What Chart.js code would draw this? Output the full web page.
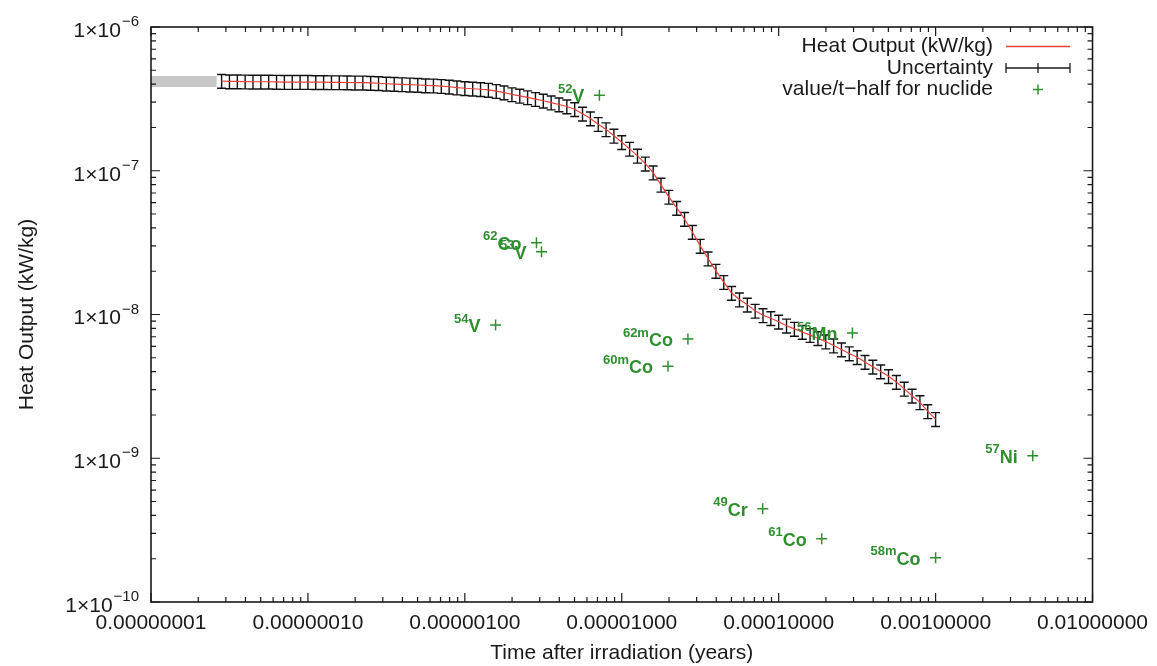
<!DOCTYPE html>
<html>
<head>
<meta charset="utf-8">
<script src="https://cdn.jsdelivr.net/npm/chart.js@4"></script>
<style>
  html, body { margin: 0; padding: 0; background: #fff; }
</style>
</head>
<body>
<canvas id="heatChart" width="1157" height="666"></canvas>
<script>
// Heat output after irradiation (log-log)
const times = [
  2.818e-8, 3.162e-8, 3.548e-8, 3.981e-8, 4.467e-8, 5.012e-8, 5.623e-8, 6.310e-8, 7.079e-8, 7.943e-8, 8.913e-8,
  1.000e-7, 1.122e-7, 1.259e-7, 1.413e-7, 1.585e-7, 1.778e-7, 1.995e-7, 2.239e-7, 2.512e-7, 2.818e-7,
  3.162e-7, 3.548e-7, 3.981e-7, 4.467e-7, 5.012e-7, 5.623e-7, 6.310e-7, 7.079e-7, 7.943e-7, 8.913e-7,
  1.000e-6, 1.122e-6, 1.259e-6, 1.413e-6, 1.585e-6, 1.778e-6, 1.995e-6, 2.239e-6, 2.512e-6, 2.818e-6,
  3.162e-6, 3.548e-6, 3.981e-6, 4.467e-6, 5.012e-6, 5.623e-6, 6.310e-6, 7.079e-6, 7.943e-6, 8.913e-6,
  1.000e-5, 1.122e-5, 1.259e-5, 1.413e-5, 1.585e-5, 1.778e-5, 1.995e-5, 2.239e-5, 2.512e-5, 2.818e-5,
  3.162e-5, 3.548e-5, 3.981e-5, 4.467e-5, 5.012e-5, 5.623e-5, 6.310e-5, 7.079e-5, 7.943e-5, 8.913e-5,
  1.000e-4, 1.122e-4, 1.259e-4, 1.413e-4, 1.585e-4, 1.778e-4, 1.995e-4, 2.239e-4, 2.512e-4, 2.818e-4,
  3.162e-4, 3.548e-4, 3.981e-4, 4.467e-4, 5.012e-4, 5.623e-4, 6.310e-4, 7.079e-4, 7.943e-4, 8.913e-4,
  1.000e-3
];
const heat = [
  4.21e-7, 4.18e-7, 4.18e-7, 4.17e-7, 4.16e-7, 4.16e-7, 4.16e-7, 4.15e-7, 4.14e-7, 4.14e-7, 4.14e-7,
  4.14e-7, 4.13e-7, 4.13e-7, 4.12e-7, 4.12e-7, 4.11e-7, 4.10e-7, 4.10e-7, 4.08e-7, 4.06e-7,
  4.03e-7, 4.01e-7, 3.99e-7, 3.97e-7, 3.95e-7, 3.92e-7, 3.91e-7, 3.88e-7, 3.84e-7, 3.79e-7,
  3.75e-7, 3.72e-7, 3.69e-7, 3.65e-7, 3.58e-7, 3.50e-7, 3.40e-7, 3.32e-7, 3.24e-7, 3.15e-7,
  3.07e-7, 2.98e-7, 2.89e-7, 2.80e-7, 2.68e-7, 2.49e-7, 2.31e-7, 2.11e-7, 1.94e-7, 1.75e-7,
  1.58e-7, 1.42e-7, 1.27e-7, 1.12e-7, 9.71e-8, 7.98e-8, 6.58e-8, 5.51e-8, 4.62e-8, 3.75e-8,
  3.00e-8, 2.45e-8, 2.01e-8, 1.68e-8, 1.41e-8, 1.27e-8, 1.17e-8, 1.06e-8, 9.87e-9, 9.41e-9,
  8.90e-9, 8.36e-9, 7.94e-9, 7.55e-9, 7.19e-9, 6.84e-9, 6.48e-9, 6.08e-9, 5.71e-9, 5.36e-9,
  5.04e-9, 4.67e-9, 4.33e-9, 4.01e-9, 3.72e-9, 3.39e-9, 3.04e-9, 2.72e-9, 2.45e-9, 2.12e-9,
  1.87e-9
];
const uncertainty = 0.11; // relative

// grey band before the first computed point
const bandTimes = [1e-8, 2.62e-8];
const bandHeat = [4.18e-7, 4.18e-7];

// nuclide markers
const nucTimes = [7.2e-6, 2.86e-6, 3.08e-6, 1.57e-6, 2.64e-5, 1.97e-5, 2.95e-4, 4.16e-3, 7.91e-5, 1.88e-4, 1.0e-3];
const nucHeat  = [3.35e-7, 3.16e-8, 2.73e-8, 8.45e-9, 6.75e-9, 4.37e-9, 7.43e-9, 1.04e-9, 4.46e-10, 2.75e-10, 2.03e-10];
const nucMass  = ['52', '62', '53', '54', '62m', '60m', '56', '57', '49', '61', '58m'];
const nucSym   = ['V', 'Co', 'V', 'V', 'Co', 'Co', 'Mn', 'Ni', 'Cr', 'Co', 'Co'];

const xTicks = [1e-8, 1e-7, 1e-6, 1e-5, 1e-4, 1e-3, 1e-2];
const yTicks = [1e-10, 1e-9, 1e-8, 1e-7, 1e-6];

const FONT = "'Liberation Sans', Arial, Helvetica, sans-serif";
const INK = '#1a1a1a';
const GREEN = '#2f8f2f';
const RED = '#e8413c';

Chart.defaults.font.family = FONT;
Chart.defaults.color = INK;

const curve = times.map((t, i) => ({ x: t, y: heat[i] }));
const nuclides = nucTimes.map((t, i) => ({ x: t, y: nucHeat[i] }));
const band = bandTimes.map((t, i) => ({ x: t, y: bandHeat[i] }));

// error bars for the "Uncertainty" dataset
const errorBars = {
  id: 'errorBars',
  beforeDatasetsDraw(chart) {
    const { ctx, scales: { x, y }, chartArea: a } = chart;
    ctx.save();
    ctx.beginPath();
    ctx.rect(a.left, a.top, a.right - a.left, a.bottom - a.top);
    ctx.clip();
    ctx.strokeStyle = '#111';
    ctx.lineWidth = 1.4;
    ctx.beginPath();
    times.forEach((t, i) => {
      const px = x.getPixelForValue(t);
      const hi = y.getPixelForValue(heat[i] * (1 + uncertainty));
      const lo = y.getPixelForValue(heat[i] * (1 - uncertainty));
      ctx.moveTo(px, hi); ctx.lineTo(px, lo);
      ctx.moveTo(px - 4.5, hi); ctx.lineTo(px + 4.5, hi);
      ctx.moveTo(px - 4.5, lo); ctx.lineTo(px + 4.5, lo);
    });
    ctx.stroke();
    ctx.restore();
  }
};

function logSteps(min, max) {
  const out = [];
  for (let e = Math.round(Math.log10(min)); e < Math.round(Math.log10(max)); e++) {
    for (let m = 1; m <= 9; m++) out.push({ v: m * Math.pow(10, e), major: m === 1 });
  }
  out.push({ v: max, major: true });
  return out;
}

// frame, inward ticks on all four sides, y labels with superscripts
const frame = {
  id: 'frame',
  afterDraw(chart) {
    const { ctx, chartArea: a, scales: { x, y } } = chart;
    ctx.save();
    ctx.strokeStyle = INK;
    ctx.lineWidth = 1.2;
    ctx.beginPath();
    logSteps(x.min, x.max).forEach(s => {
      const px = x.getPixelForValue(s.v);
      const len = s.major ? 9 : 5;
      ctx.moveTo(px, a.bottom); ctx.lineTo(px, a.bottom - len);
      ctx.moveTo(px, a.top); ctx.lineTo(px, a.top + len);
    });
    logSteps(y.min, y.max).forEach(s => {
      const py = y.getPixelForValue(s.v);
      const len = s.major ? 9 : 5;
      ctx.moveTo(a.left, py); ctx.lineTo(a.left + len, py);
      ctx.moveTo(a.right, py); ctx.lineTo(a.right - len, py);
    });
    ctx.stroke();
    ctx.lineWidth = 1.6;
    ctx.strokeRect(a.left, a.top, a.right - a.left, a.bottom - a.top);

    ctx.fillStyle = INK;
    ctx.textBaseline = 'middle';
    ctx.textAlign = 'right';
    yTicks.forEach(v => {
      const py = y.getPixelForValue(v);
      const exp = '\u2212' + Math.abs(Math.round(Math.log10(v)));
      ctx.font = '15px ' + FONT;
      const ew = ctx.measureText(exp).width;
      ctx.fillText(exp, a.left - 12, py - 5);
      ctx.font = '21px ' + FONT;
      ctx.fillText('1\u00d710', a.left - 13 - ew, py + 4);
    });
    ctx.restore();
  }
};

// nuclide names, mass number as superscript, left of each marker
const nucLabels = {
  id: 'nucLabels',
  afterDatasetsDraw(chart) {
    const { ctx, scales: { x, y } } = chart;
    ctx.save();
    ctx.fillStyle = GREEN;
    ctx.textBaseline = 'middle';
    ctx.textAlign = 'right';
    nucTimes.forEach((t, i) => {
      const px = x.getPixelForValue(t);
      const py = y.getPixelForValue(nucHeat[i]);
      ctx.font = 'bold 18px ' + FONT;
      const sw = ctx.measureText(nucSym[i]).width;
      ctx.fillText(nucSym[i], px - 15, py + 2);
      ctx.font = 'bold 13px ' + FONT;
      ctx.fillText(nucMass[i], px - 15 - sw, py - 6);
    });
    ctx.restore();
  }
};

// gnuplot-style key: text right aligned, sample on the right
const key = {
  id: 'key',
  afterDraw(chart) {
    const { ctx } = chart;
    const ds = chart.data.datasets;
    const textRight = 993, s0 = 1006, s1 = 1070;
    ctx.save();
    ctx.font = '21px ' + FONT;
    ctx.fillStyle = INK;
    ctx.textAlign = 'right';
    ctx.textBaseline = 'middle';
    for (let i = 0; i < 3; i++) {
      const cy = 46.5 + i * 21.5;
      ctx.fillText(ds[i].label, textRight, cy);
      ctx.beginPath();
      if (i === 0) {
        ctx.strokeStyle = RED; ctx.lineWidth = 1.5;
        ctx.moveTo(s0, cy); ctx.lineTo(s1, cy);
      } else if (i === 1) {
        ctx.strokeStyle = INK; ctx.lineWidth = 1.3;
        ctx.moveTo(s0, cy); ctx.lineTo(s1, cy);
        [s0, (s0 + s1) / 2, s1].forEach(px => { ctx.moveTo(px, cy - 5); ctx.lineTo(px, cy + 5); });
      } else {
        const mx = (s0 + s1) / 2;
        ctx.strokeStyle = GREEN; ctx.lineWidth = 1.5;
        ctx.moveTo(mx - 5, cy); ctx.lineTo(mx + 5, cy);
        ctx.moveTo(mx, cy - 5); ctx.lineTo(mx, cy + 5);
      }
      ctx.stroke();
    }
    ctx.restore();
  }
};

const config = {
  type: 'line',
  data: {
    datasets: [
      {
        label: 'Heat Output (kW/kg)',
        data: curve,
        borderColor: RED,
        borderWidth: 1.2,
        pointRadius: 0,
        tension: 0
      },
      {
        label: 'Uncertainty',
        data: curve,
        showLine: false,
        pointRadius: 0
      },
      {
        label: 'value/t\u2212half for nuclide',
        data: nuclides,
        showLine: false,
        pointStyle: 'cross',
        pointRadius: 5.5,
        borderColor: GREEN,
        borderWidth: 1.5
      },
      {
        label: '',
        data: band,
        borderColor: '#c8c8c8',
        borderWidth: 11,
        pointRadius: 0
      }
    ]
  },
  options: {
    responsive: false,
    animation: false,
    devicePixelRatio: 1,
    layout: { padding: { left: 0, right: 61, top: 27, bottom: 0 } },
    plugins: {
      legend: { display: false },
      tooltip: { enabled: false }
    },
    scales: {
      x: {
        type: 'logarithmic',
        min: 1e-8,
        max: 1e-2,
        afterBuildTicks: s => { s.ticks = xTicks.map(v => ({ value: v, major: true })); },
        afterFit: s => { s.height = 64; },
        grid: { display: false, drawTicks: false },
        border: { display: false },
        ticks: {
          autoSkip: false,
          maxRotation: 0,
          padding: 9,
          color: INK,
          font: { size: 21 },
          callback: v => Number(v).toFixed(8)
        },
        title: {
          display: true,
          text: 'Time after irradiation (years)',
          color: INK,
          font: { size: 21 },
          padding: { top: 0, bottom: 0 }
        }
      },
      y: {
        type: 'logarithmic',
        min: 1e-10,
        max: 1e-6,
        afterBuildTicks: s => { s.ticks = yTicks.map(v => ({ value: v, major: true })); },
        afterFit: s => { s.width = 151; },
        grid: { display: false, drawTicks: false },
        border: { display: false },
        ticks: { display: false },
        title: {
          display: true,
          text: 'Heat Output (kW/kg)',
          color: INK,
          font: { size: 21 },
          padding: { top: 15, bottom: 0 }
        }
      }
    }
  },
  plugins: [errorBars, nucLabels, frame, key]
};

const heatChart = new Chart(document.getElementById('heatChart'), config);
</script>
</body>
</html>
